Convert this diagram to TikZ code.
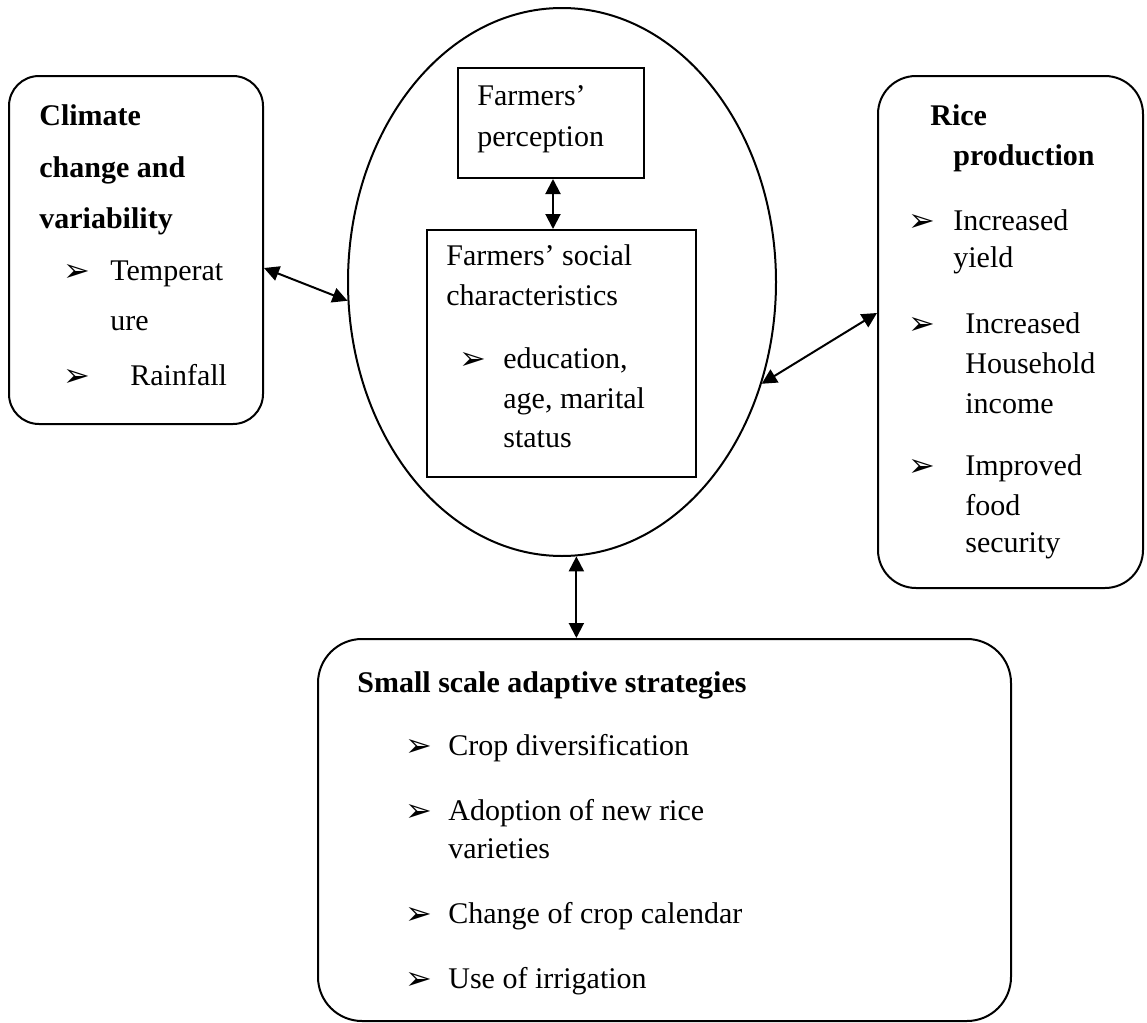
\documentclass[tikz,border=0pt]{standalone}
\usepackage{fontspec}
\setmainfont{Liberation Serif}
\newfontfamily\dingfont{DejaVu Sans}
\usetikzlibrary{arrows.meta,shapes.geometric}
\tikzset{
  linetext/.style={font=\fontsize{15}{19}\selectfont, anchor=base west, inner sep=0pt},
  headtext/.style={font=\fontsize{15}{19}\selectfont\bfseries, anchor=base west, inner sep=0pt},
  bulletmark/.style={font=\dingfont\fontsize{16}{18}\selectfont, anchor=base west, inner sep=0pt, yshift=-0.5pt},
  roundbox/.style={draw, line width=1pt, rounded corners=#1, anchor=north west, inner sep=0pt},
  roundbox/.default=16pt,
  plainbox/.style={draw, line width=1pt, anchor=north west, inner sep=0pt},
  twoway/.style={{Triangle[length=7.5pt,width=7.5pt]}-{Triangle[length=7.5pt,width=7.5pt]}, line width=1pt}
}

\begin{document}
\begin{tikzpicture}[x=0.5pt,y=-0.5pt]
  \useasboundingbox (0,0) rectangle (1147,1023);
  % frames
  \node[roundbox=15pt, minimum width=127pt, minimum height=174pt] (climate) at (8,75) {};
  \node[roundbox=19pt, minimum width=132.5pt, minimum height=256pt] (rice) at (877,75) {};
  \node[roundbox=22pt, minimum width=346.5pt, minimum height=191pt] (strat) at (317,638) {};
  \node[draw, ellipse, line width=1pt, minimum width=214pt, minimum height=274pt, inner sep=0pt] (core) at (562,282) {};
  \node[plainbox, minimum width=93pt, minimum height=55pt] (percep) at (457,67) {};
  \node[plainbox, minimum width=134.5pt, minimum height=123.5pt] (social) at (426,229) {};

  % climate box
  \node[headtext] (clim1) at (39,125) {Climate};
  \node[headtext] (clim2) at (39,177) {change and};
  \node[headtext] (clim3) at (39,228) {variability};
  \node[bulletmark] (climb1) at (63,280) {➢};
  \node[linetext] (clim4) at (110,280) {Temperat};
  \node[linetext] (clim5) at (110,330) {ure};
  \node[bulletmark] (climb2) at (63,385) {➢};
  \node[linetext] (clim6) at (130,385) {Rainfall};

  % centre
  \node[linetext] (perc1) at (477,105) {Farmers’};
  \node[linetext] (perc2) at (477,146) {perception};
  \node[linetext] (soc1) at (446,265) {Farmers’ social};
  \node[linetext] (soc2) at (446,305) {characteristics};
  \node[bulletmark] (socb1) at (459,368) {➢};
  \node[linetext] (soc3) at (503,368) {education,};
  \node[linetext] (soc4) at (503,408) {age, marital};
  \node[linetext] (soc5) at (503,447) {status};

  % rice box
  \node[headtext] (rice1) at (930,125) {Rice};
  \node[headtext] (rice2) at (953,165) {production};
  \node[bulletmark] (riceb1) at (908,230) {➢};
  \node[linetext] (rice3) at (953,230) {Increased};
  \node[linetext] (rice4) at (953,267) {yield};
  \node[bulletmark] (riceb2) at (908,333) {➢};
  \node[linetext] (rice5) at (965,333) {Increased};
  \node[linetext] (rice6) at (965,373) {Household};
  \node[linetext] (rice7) at (965,413) {income};
  \node[bulletmark] (riceb3) at (908,475) {➢};
  \node[linetext] (rice8) at (965,475) {Improved};
  \node[linetext] (rice9) at (965,515) {food};
  \node[linetext] (rice10) at (965,552) {security};

  % strategies box
  \node[headtext] (strat1) at (357,692) {Small scale adaptive strategies};
  \node[bulletmark] (stratb1) at (405,755) {➢};
  \node[linetext] (strat2) at (448,755) {Crop diversification};
  \node[bulletmark] (stratb2) at (405,820) {➢};
  \node[linetext] (strat3) at (448,820) {Adoption of new rice};
  \node[linetext] (strat4) at (448,858) {varieties};
  \node[bulletmark] (stratb3) at (405,923) {➢};
  \node[linetext] (strat5) at (448,923) {Change of crop calendar};
  \node[bulletmark] (stratb4) at (405,988) {➢};
  \node[linetext] (strat6) at (448,988) {Use of irrigation};

  % links
  \draw[twoway] ([yshift=-9pt]climate.east) -- (core.185);
  \draw[twoway] (core.333) -- ([yshift=9.5pt]rice.west);
  \draw[twoway] (core.273) -- (core.273 |- strat.north);
  \draw[twoway] ([xshift=1pt]percep.south) -- ([xshift=1pt]percep.south |- social.north);
\end{tikzpicture}
\end{document}
